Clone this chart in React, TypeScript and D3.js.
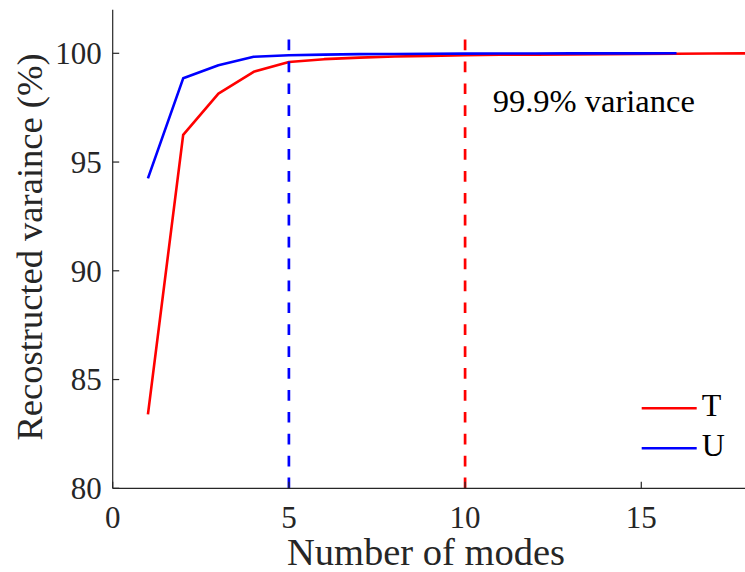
import React from "react";
import * as d3 from "d3";

// Reconstructed variance (%) versus number of retained modes
const modesT = [1, 2, 3, 4, 5, 6, 7, 8, 9, 10, 11, 12, 13, 14, 15, 16, 17, 18];
const varianceT = [83.4, 96.25, 98.15, 99.15, 99.6, 99.73, 99.8, 99.85, 99.88, 99.91, 99.93, 99.94, 99.95, 99.96, 99.97, 99.98, 99.99, 99.995];
const modesU = [1, 2, 3, 4, 5, 6, 7, 8, 9, 10, 11, 12, 13, 14, 15, 16];
const varianceU = [94.25, 98.85, 99.45, 99.84, 99.91, 99.94, 99.96, 99.97, 99.98, 99.985, 99.99, 99.99, 99.995, 99.995, 99.998, 100];

// Mode counts that reach the 99.9% threshold for each field
const thresholdModes = [
  { mode: 5, color: "#0000ff" },
  { mode: 10, color: "#ff0000" },
];
const thresholdTop = 100.65;

const xTicks = [0, 5, 10, 15];
const yTicks = [80, 85, 90, 95, 100];
const xDomain: [number, number] = [0, 18];
const yDomain: [number, number] = [80, 102];

const series = [
  { name: "T", modes: modesT, values: varianceT, color: "#ff0000" },
  { name: "U", modes: modesU, values: varianceU, color: "#0000ff" },
];

const FONT = "'Times New Roman', 'Liberation Serif', 'DejaVu Serif', serif";
const INK = "#262626";
const textStyle = { fontFamily: FONT };

export default function App() {
  const width = 745;
  const height = 572;
  const left = 112.7;
  const bottom = 488.3;
  const x = d3.scaleLinear().domain(xDomain).range([left, 747]);
  const y = d3.scaleLinear().domain(yDomain).range([bottom, 9.8]);

  const line = d3
    .line<[number, number]>()
    .x((d) => x(d[0]))
    .y((d) => y(d[1]));

  return (
    <svg
      width={width}
      height={height}
      style={{ position: "absolute", left: 0, top: 0, background: "#fff", fontFamily: FONT }}
    >
      <rect x={0} y={0} width={width} height={height} fill="#fff" />

      {/* data lines */}
      {series.map((s) => (
        <path
          key={s.name}
          d={line(s.modes.map((m, i) => [m, s.values[i]] as [number, number])) || ""}
          fill="none"
          stroke={s.color}
          strokeWidth={2.6}
          strokeLinejoin="round"
        />
      ))}

      {/* threshold markers */}
      {thresholdModes.map((t) => (
        <line
          key={t.mode}
          x1={x(t.mode)}
          x2={x(t.mode)}
          y1={y(yDomain[0])}
          y2={y(thresholdTop)}
          stroke={t.color}
          strokeWidth={2.7}
          strokeDasharray="10.7 11.2"
        />
      ))}

      <text x={492.7} y={111.7} fontSize={32.5} fill="#000" style={textStyle}>
        99.9% variance
      </text>

      {/* axes */}
      <line x1={left} x2={left} y1={y(yDomain[1])} y2={bottom} stroke={INK} strokeWidth={1.2} />
      <line x1={left} x2={width} y1={bottom} y2={bottom} stroke={INK} strokeWidth={1.2} />
      {yTicks.map((t) => (
        <g key={"y" + t}>
          <line x1={left} x2={left + 6.5} y1={y(t)} y2={y(t)} stroke={INK} strokeWidth={1.2} />
          <text
            x={left - 11}
            y={y(t) + 10.8}
            fontSize={31}
            fill={INK}
            textAnchor="end"
            style={textStyle}
          >
            {t}
          </text>
        </g>
      ))}
      {xTicks.map((t) => (
        <g key={"x" + t}>
          <line x1={x(t)} x2={x(t)} y1={bottom} y2={bottom - 6.5} stroke={INK} strokeWidth={1.2} />
          <text x={x(t)} y={528.3} fontSize={31} fill={INK} textAnchor="middle" style={textStyle}>
            {t}
          </text>
        </g>
      ))}

      <text x={426} y={565} fontSize={38.5} fill={INK} textAnchor="middle" style={textStyle}>
        Number of modes
      </text>
      <text
        transform={`translate(41.5, 247) rotate(-90)`}
        fontSize={36.5}
        fill={INK}
        textAnchor="middle"
        style={textStyle}
      >
        Recostructed varaince (%)
      </text>

      {/* legend */}
      {series.map((s, i) => (
        <g key={"lg" + s.name}>
          <line x1={641.7} x2={696.7} y1={408.3 + i * 40} y2={408.3 + i * 40} stroke={s.color} strokeWidth={2.6} />
          <text x={701.7} y={416 + i * 40} fontSize={32} fill="#000" style={textStyle}>
            {s.name}
          </text>
        </g>
      ))}
    </svg>
  );
}
